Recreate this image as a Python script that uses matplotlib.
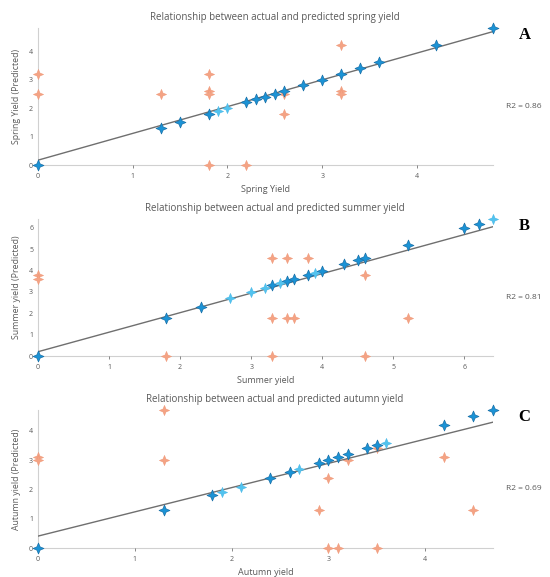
import matplotlib
matplotlib.use('Agg')
import matplotlib.pyplot as plt
from matplotlib.path import Path
import numpy as np

# --- spring (A) ---
spring_x = [0, 1.3, 1.5, 1.8, 1.9, 2.0, 2.2, 2.3, 2.4, 2.5, 2.6, 2.8, 3.0, 3.2, 3.4, 3.6, 4.2, 4.8]
spring_light = [0, 0, 0, 0, 1, 1, 0, 0, 0, 0, 0, 0, 0, 0, 0, 0, 0, 0]
spring_ox = [0, 0, 1.3, 1.8, 1.8, 1.8, 1.8, 2.2, 2.6, 2.6, 3.2, 3.2, 3.2]
spring_oy = [3.2, 2.5, 2.5, 3.2, 2.6, 2.5, 0, 0, 2.5, 1.8, 4.2, 2.6, 2.5]
spring_fit = (0.17, 0.94)
spring_r2 = "R2 = 0.86"

# --- summer (B) ---
summer_x = [0, 1.8, 2.3, 2.7, 3.0, 3.2, 3.3, 3.4, 3.5, 3.6, 3.8, 3.9, 4.0, 4.3, 4.5, 4.6, 5.2, 6.0, 6.2, 6.4]
summer_light = [0, 0, 0, 1, 1, 1, 0, 1, 0, 0, 0, 1, 0, 0, 0, 0, 0, 0, 0, 1]
summer_ox = [0, 0, 1.8, 3.3, 3.3, 3.3, 3.5, 3.5, 3.6, 3.8, 4.6, 4.6, 5.2]
summer_oy = [3.8, 3.6, 0, 4.6, 1.8, 0, 4.6, 1.8, 1.8, 4.6, 3.8, 0, 1.8]
summer_fit = (0.2, 0.914)
summer_r2 = "R2 = 0.81"

# --- autumn (C) ---
autumn_x = [0, 1.3, 1.8, 1.9, 2.1, 2.4, 2.6, 2.7, 2.9, 3.0, 3.1, 3.2, 3.4, 3.5, 3.6, 4.2, 4.5, 4.7]
autumn_light = [0, 0, 0, 1, 1, 0, 0, 1, 0, 0, 0, 0, 0, 0, 1, 0, 0, 0]
autumn_ox = [0, 0, 1.3, 1.3, 2.9, 3.0, 3.0, 3.1, 3.2, 3.5, 3.5, 4.2, 4.5]
autumn_oy = [3.1, 3.0, 4.7, 3.0, 1.3, 2.4, 0, 0, 3.0, 3.4, 0, 3.1, 1.3]
autumn_fit = (0.41, 0.826)
autumn_r2 = "R2 = 0.69"

panels = [
    ("Relationship between actual and predicted spring yield", "Spring Yield", "Spring Yield (Predicted)",
     spring_x, spring_light, spring_ox, spring_oy, spring_fit, spring_r2, "A", 4.8, 4.8, [0, 1, 2, 3, 4], [0, 1, 2, 3, 4]),
    ("Relationship between actual and predicted summer yield", "Summer yield", "Summer yield (Predicted)",
     summer_x, summer_light, summer_ox, summer_oy, summer_fit, summer_r2, "B", 6.4, 6.4, range(7), range(7)),
    ("Relationship between actual and predicted autumn yield", "Autumn yield", "Autumn yield (Predicted)",
     autumn_x, autumn_light, autumn_ox, autumn_oy, autumn_fit, autumn_r2, "C", 4.7, 4.7, [0, 1, 2, 3, 4], [0, 1, 2, 3, 4]),
]

# 4 point star marker
ang = np.linspace(np.pi / 2, np.pi / 2 + 2 * np.pi, 9)[:-1]
rad = np.array([1, 0.42] * 4)
verts = list(zip(rad * np.cos(ang), rad * np.sin(ang)))
verts.append(verts[0])
codes = [Path.MOVETO] + [Path.LINETO] * 7 + [Path.CLOSEPOLY]
star = Path(verts, codes)

dark_blue = "#1b93d6"
dark_edge = "#1a70a8"
light_blue = "#52c3ef"
orange = "#f4a384"
grey = "#595959"

fig = plt.figure(figsize=(5.5, 5.77), dpi=100)
plt.rcParams['font.family'] = ['Open Sans', 'DejaVu Sans']

boxes = [(0.069, 0.714, 0.827, 0.237), (0.069, 0.383, 0.827, 0.237), (0.069, 0.050, 0.827, 0.239)]

for box, p in zip(boxes, panels):
    title, xl, yl, bx, light, ox, oy, fit, r2, letter, xmax, ymax, xt, yt = p
    ax = fig.add_axes(box)
    ax.scatter(ox, oy, marker=star, s=55, color=orange, edgecolors="#ef9473", linewidths=0.3, zorder=3)
    xs = np.array([0, xmax])
    ax.plot(xs, fit[0] + fit[1] * xs, color="#6f6f6f", lw=1.0, zorder=4)
    bx = np.array(bx)
    light = np.array(light, dtype=bool)
    ax.scatter(bx[~light], bx[~light], marker=star, s=62, color=dark_blue, edgecolors=dark_edge, linewidths=0.5, zorder=5)
    ax.scatter(bx[light], bx[light], marker=star, s=55, color=light_blue, edgecolors="#40b2e4", linewidths=0.3, zorder=5)
    ax.set_xlim(0, xmax)
    ax.set_ylim(0, ymax)
    ax.set_xticks(list(xt))
    ax.set_yticks(list(yt))
    ax.tick_params(labelsize=5, colors=grey, length=2, width=0.5)
    ax.tick_params(axis='y', length=0)
    for s in ['top', 'right']:
        ax.spines[s].set_visible(False)
    for s in ['left', 'bottom']:
        ax.spines[s].set_color("#d0d0d0")
        ax.spines[s].set_linewidth(0.8)
        ax.spines[s].set_zorder(1)
    for c in ax.collections:
        c.set_clip_on(False)
    ax.set_title(title, fontsize=7, color=grey, pad=6, x=0.52)
    ax.set_xlabel(xl, fontsize=6.5, color=grey, labelpad=4)
    ax.set_ylabel(yl, fontsize=6.3, color=grey, labelpad=6)
    ax.text(1.068, 0.43, r2, transform=ax.transAxes, fontsize=6, color=grey, ha='center', va='center')
    ax.text(1.07, 0.95, letter, transform=ax.transAxes, fontsize=12, fontweight='bold',
            family='Liberation Serif', ha='center', va='center')

fig.savefig("out.png", dpi=100)
